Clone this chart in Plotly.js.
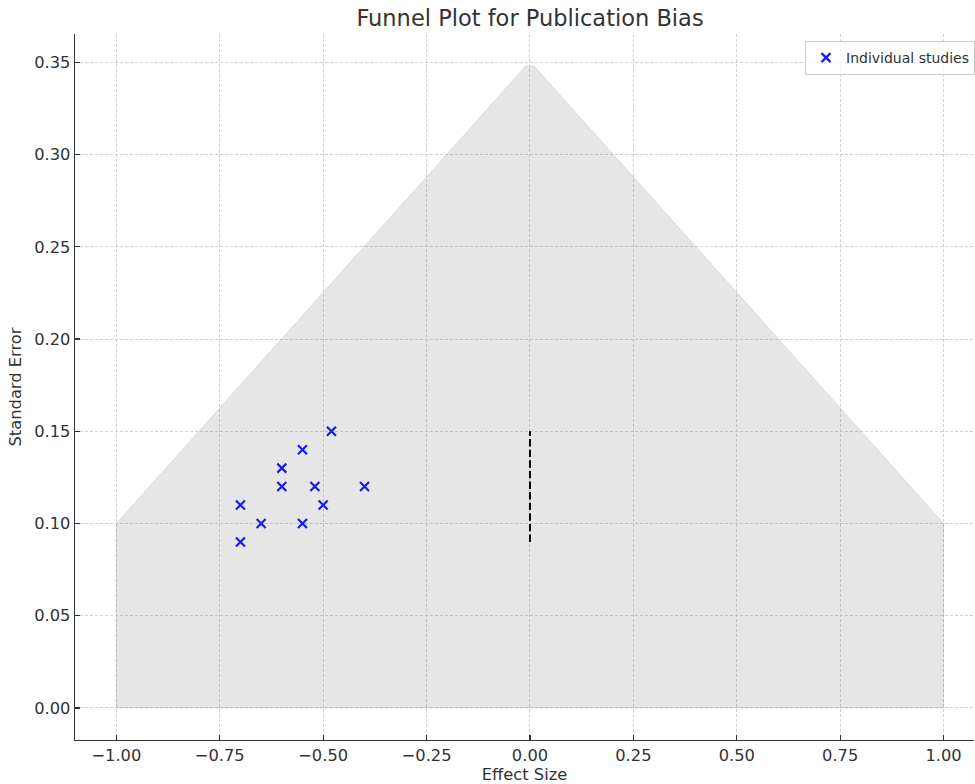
<!DOCTYPE html>
<html>
<head>
<meta charset="utf-8">
<script src="https://cdn.plot.ly/plotly-3.0.1.min.js"></script>
<style>html,body{margin:0;padding:0;background:#fff;}#chart{width:975px;height:784px;}</style>
</head>
<body>
<div id="chart"></div>
<script>
// Individual studies
const effectSize = [-0.70, -0.70, -0.65, -0.60, -0.60, -0.55, -0.55, -0.52, -0.50, -0.48, -0.40];
const standardError = [0.11, 0.09, 0.10, 0.13, 0.12, 0.14, 0.10, 0.12, 0.11, 0.15, 0.12];
// Funnel region outline
const funnelX = [-1.0, -1.0, -0.01, 0.01, 1.0, 1.0, -1.0];
const funnelY = [0.0, 0.10, 0.348, 0.348, 0.10, 0.0, 0.0];
// Vertical reference line
const refX = [0.0, 0.0];
const refY = [0.09, 0.15];

const font = 'DejaVu Sans, sans-serif';
const txt = '#333333';

const traces = [
  {
    x: funnelX, y: funnelY, type: 'scatter', mode: 'lines',
    fill: 'toself', fillcolor: 'rgba(128,128,128,0.2)',
    line: {color: 'rgba(128,128,128,0.2)', width: 1},
    showlegend: false, hoverinfo: 'skip'
  },
  {
    x: refX, y: refY, type: 'scatter', mode: 'lines',
    line: {color: '#000000', width: 2, dash: '7.4px,3.2px'},
    showlegend: false
  },
  {
    x: effectSize, y: standardError, type: 'scatter', mode: 'markers',
    name: 'Individual studies',
    marker: {symbol: 'x-thin', size: 9, color: '#0000ff', line: {color: '#1a1aee', width: 2.2}}
  }
];

const layout = {
  width: 975, height: 784,
  margin: {l: 74.7, r: 0, t: 34, b: 44},
  paper_bgcolor: '#ffffff', plot_bgcolor: '#ffffff',
  font: {family: font, color: txt, size: 16},
  title: {text: 'Funnel Plot for Publication Bias', font: {family: font, size: 22.5, color: txt},
          xref: 'container', x: 530 / 975, xanchor: 'center',
          yref: 'container', y: 1 - 18 / 784, yanchor: 'middle'},
  xaxis: {
    range: [-1.1, 1.0735],
    tickvals: [-1, -0.75, -0.5, -0.25, 0, 0.25, 0.5, 0.75, 1],
    ticktext: ['\u22121.00', '\u22120.75', '\u22120.50', '\u22120.25', '0.00', '0.25', '0.50', '0.75', '1.00'],
    ticks: 'inside', ticklen: 5, tickwidth: 1.2, tickcolor: '#333',
    showline: true, linecolor: '#333', linewidth: 1.3,
    showgrid: true, gridcolor: '#d0d0d0', gridwidth: 1, griddash: '3px,2px',
    zeroline: false,
    tickfont: {family: font, size: 16.3, color: txt},
    title: {text: 'Effect Size', font: {family: font, size: 16.3, color: txt}, standoff: 4}
  },
  yaxis: {
    range: [-0.0174, 0.3654],
    tickvals: [0, 0.05, 0.10, 0.15, 0.20, 0.25, 0.30, 0.35],
    ticktext: ['0.00', '0.05', '0.10', '0.15', '0.20', '0.25', '0.30', '0.35'],
    ticks: 'inside', ticklen: 5, tickwidth: 1.2, tickcolor: '#333',
    showline: true, linecolor: '#333', linewidth: 1.3,
    showgrid: true, gridcolor: '#d0d0d0', gridwidth: 1, griddash: '3px,2px',
    zeroline: false,
    tickfont: {family: font, size: 16.3, color: txt},
    title: {text: 'Standard Error', font: {family: font, size: 16.3, color: txt}, standoff: 8}
  },
  showlegend: true,
  legend: {
    x: (806 - 74.7) / 900.3, y: (740 - 41) / 706, xanchor: 'left', yanchor: 'top',
    bgcolor: 'rgba(255,255,255,0.8)', bordercolor: '#cccccc', borderwidth: 1,
    font: {family: font, size: 14, color: txt}
  }
};

Plotly.newPlot('chart', traces, layout, {displayModeBar: false, staticPlot: true});
</script>
</body>
</html>
